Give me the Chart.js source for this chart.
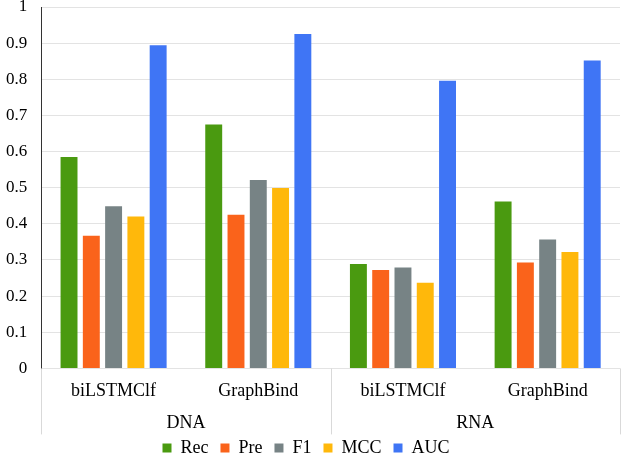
<!DOCTYPE html>
<html>
<head>
<meta charset="utf-8">
<script src="https://cdn.jsdelivr.net/npm/chart.js@4/dist/chart.umd.min.js"></script>
<style>
html,body{margin:0;padding:0;background:#fff;}
#wrap{width:622px;height:456px;}
</style>
</head>
<body>
<div id="wrap"><canvas id="c" width="622" height="456"></canvas></div>
<script>
'use strict';

// methods (inner axis) and molecule groups (outer axis)
var methods=['biLSTMClf','GraphBind','biLSTMClf','GraphBind'];
var groups=['DNA','RNA'];
var seriesNames=['Rec','Pre','F1','MCC','AUC'];
var seriesColors=['#4a9a10','#fa631b','#778385','#ffb80b','#3f75f5'];

var recVals=[0.585,0.675,0.289,0.462];
var preVals=[0.367,0.425,0.272,0.293];
var f1Vals =[0.449,0.521,0.279,0.357];
var mccVals=[0.420,0.499,0.237,0.322];
var aucVals=[0.894,0.925,0.796,0.852];

var SERIF="'Times New Roman', 'Liberation Serif', Tinos, 'DejaVu Serif', serif";

// separators between the molecule groups under the axis
var groupLines={
  id:'groupLines',
  afterDraw:function(chart){
    var x=chart.scales.x,ctx=chart.ctx;
    var mid=(x.getPixelForValue(1)+x.getPixelForValue(2))/2;
    var xs=[chart.chartArea.left,mid,chart.chartArea.right];
    ctx.save();
    ctx.strokeStyle='#d9d9d9';ctx.lineWidth=1;
    for(var i=0;i<xs.length;i++){
      var px=Math.round(xs[i])+0.5;
      ctx.beginPath();ctx.moveTo(px,chart.chartArea.bottom);ctx.lineTo(px,chart.chartArea.bottom+66);ctx.stroke();
    }
    ctx.restore();
  }
};

var vals=[recVals,preVals,f1Vals,mccVals,aucVals];
var ds=[];
for(var i=0;i<seriesNames.length;i++){
  ds.push({label:seriesNames[i],data:vals[i],backgroundColor:seriesColors[i],
    categoryPercentage:0.77,barPercentage:0.76,borderWidth:0});
}

new Chart(document.getElementById('c'),{
  type:'bar',
  data:{labels:methods,datasets:ds},
  options:{
    responsive:false,animation:false,
    layout:{padding:{top:0,right:2,left:-8,bottom:-11}},
    plugins:{
      legend:{position:'bottom',
        labels:{boxWidth:9,boxHeight:9,padding:12,color:'#000',font:{family:SERIF,size:18}}},
      tooltip:{enabled:false}
    },
    scales:{
      x:{grid:{display:false},border:{display:false},
        ticks:{color:'#000',padding:4,font:{family:SERIF,size:18}},
        afterFit:function(s){s.height+=21;}},
      grp:{type:'category',labels:groups,position:'bottom',offset:true,
        grid:{display:false},border:{display:false},
        ticks:{color:'#000',mirror:true,padding:-7,font:{family:SERIF,size:18}},
        afterFit:function(s){s.height=0;}},
      y:{min:0,max:1,
        grid:{color:'#e3e3e3',tickLength:0},
        border:{color:'#333',width:1},
        ticks:{stepSize:0.1,color:'#000',padding:14,font:{family:SERIF,size:17},
          callback:function(v){return String(Number(v.toFixed(1)));}},
        afterFit:function(s){s.paddingTop=7;s.paddingBottom=0;}}
    }
  },
  plugins:[groupLines]
});
</script>
</body>
</html>
